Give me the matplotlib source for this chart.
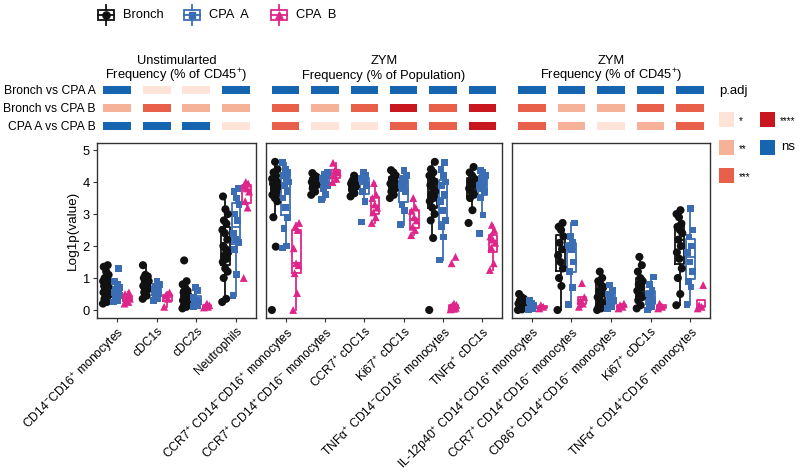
import matplotlib
matplotlib.use('Agg')
import matplotlib.pyplot as plt
from matplotlib.patches import Rectangle
import numpy as np

plt.rcParams['font.family'] = ['Liberation Sans', 'DejaVu Sans']
plt.rcParams['mathtext.fontset'] = 'custom'
plt.rcParams['mathtext.rm'] = 'Liberation Sans'
plt.rcParams['mathtext.it'] = 'Liberation Sans:italic'
plt.rcParams['mathtext.bf'] = 'Liberation Sans:bold'

groups = ['Bronch', 'CPA  A', 'CPA  B']
comparisons = ['Bronch vs CPA A', 'Bronch vs CPA B', 'CPA A vs CPA B']
padj_levels = ['*', '**', '***', '****', 'ns']

title_top = ['Unstimularted', 'ZYM', 'ZYM']
title_sub = ['Frequency (% of CD45$^{+}$)', 'Frequency (% of Population)', 'Frequency (% of CD45$^{+}$)']

# Unstimulated, % of CD45+
unstim_cats = ['CD14$^{-}$CD16$^{+}$ monocytes', 'cDC1s', 'cDC2s', 'Neutrophils']
unstim_bronch = [
    [0.2, 0.25, 0.35, 0.45, 0.5, 0.55, 0.6, 0.65, 0.7, 0.7, 0.75, 0.8, 0.85, 0.9, 0.95, 1.0, 1.1, 1.2, 1.35, 1.4],
    [0.35, 0.45, 0.55, 0.65, 0.7, 0.75, 0.8, 0.85, 0.9, 0.95, 1.0, 1.05, 1.1, 1.4],
    [0.05, 0.1, 0.15, 0.2, 0.25, 0.3, 0.35, 0.4, 0.45, 0.5, 0.55, 0.6, 0.7, 0.8, 0.9, 1.55],
    [0.25, 0.35, 1.0, 1.2, 1.3, 1.5, 1.6, 1.7, 1.8, 1.9, 2.0, 2.2, 2.4, 2.5, 2.7, 2.8, 3.0, 3.15, 3.55],
]
unstim_cpa_a = [
    [0.25, 0.3, 0.4, 0.45, 0.5, 0.55, 0.6, 0.65, 0.7, 0.8, 0.9, 1.3],
    [0.3, 0.35, 0.45, 0.5, 0.6, 0.65, 0.7, 0.75, 0.8, 0.9],
    [0.1, 0.15, 0.2, 0.25, 0.3, 0.4, 0.6, 0.7],
    [0.45, 1.1, 1.9, 2.1, 2.2, 2.4, 2.8, 3.0, 3.3, 3.5, 3.7, 3.8],
]
unstim_cpa_b = [
    [0.2, 0.25, 0.3, 0.35, 0.4, 0.5, 0.55],
    [0.1, 0.35, 0.45, 0.55],
    [0.08, 0.1, 0.12, 0.15, 0.2],
    [1.0, 3.2, 3.4, 3.7, 3.8, 3.9, 3.95, 4.0],
]
unstim_padj = [['ns', '*', '*', 'ns'],
               ['**', '***', '**', '**'],
               ['ns', 'ns', 'ns', '*']]

# ZYM, % of population
zym_pop_cats = ['CCR7$^{+}$ CD14$^{-}$CD16$^{+}$ monocytes', 'CCR7$^{+}$ CD14$^{+}$CD16$^{-}$ monocytes',
                'CCR7$^{+}$ cDC1s', 'Ki67$^{+}$ cDC1s',
                'TNFα$^{+}$ CD14$^{-}$CD16$^{+}$ monocytes', 'TNFα$^{+}$ cDC1s']
zym_pop_bronch = [
    [0, 1.98, 2.9, 3.4, 3.5, 3.6, 3.7, 3.8, 3.85, 3.9, 3.95, 4.0, 4.05, 4.1, 4.2, 4.3, 4.4, 4.63],
    [3.6, 3.7, 3.8, 3.9, 3.95, 4.0, 4.05, 4.1, 4.15, 4.2, 4.28],
    [3.55, 3.65, 3.75, 3.85, 3.9, 3.95, 4.0, 4.05, 4.1, 4.2],
    [3.5, 3.6, 3.7, 3.8, 3.9, 3.95, 4.0, 4.1, 4.2, 4.3, 4.37],
    [0, 2.25, 2.8, 3.0, 3.2, 3.4, 3.5, 3.6, 3.7, 3.8, 3.9, 4.0, 4.1, 4.2, 4.3, 4.4, 4.63],
    [2.72, 3.12, 3.5, 3.6, 3.7, 3.8, 3.9, 4.0, 4.1, 4.2, 4.3, 4.47],
]
zym_pop_cpa_a = [
    [1.94, 2.0, 2.56, 2.9, 3.2, 3.5, 3.7, 3.9, 4.0, 4.1, 4.2, 4.3, 4.4, 4.6],
    [3.45, 3.6, 3.8, 3.9, 4.0, 4.1, 4.2, 4.25, 4.3],
    [2.75, 3.4, 3.7, 3.9, 4.0, 4.1, 4.2, 4.3],
    [2.66, 3.12, 3.28, 3.7, 3.8, 3.9, 4.0, 4.1, 4.2, 4.37],
    [1.56, 2.28, 2.6, 2.8, 3.1, 3.4, 3.6, 3.9, 4.0, 4.2, 4.4, 4.6],
    [2.4, 2.97, 3.5, 3.7, 3.8, 3.9, 4.0, 4.1, 4.2, 4.3, 4.37],
]
zym_pop_cpa_b = [
    [0, 0.53, 1.15, 1.4, 1.46, 1.93, 2.5, 2.6, 2.72],
    [4.0, 4.1, 4.2, 4.3, 4.4, 4.6],
    [2.72, 2.9, 3.05, 3.2, 3.3, 3.5, 3.6, 3.97],
    [2.34, 2.5, 2.6, 2.8, 2.9, 3.1, 3.2, 3.5],
    [0.02, 0.04, 0.05, 0.07, 0.08, 0.1, 0.12, 0.14, 0.16, 0.2, 1.46, 1.66],
    [1.25, 1.46, 1.95, 2.1, 2.2, 2.3, 2.5, 2.66],
]
zym_pop_padj = [['ns', 'ns', 'ns', 'ns', 'ns', 'ns'],
                ['***', '**', '***', '****', '***', '****'],
                ['***', '*', '*', '***', '***', '****']]

# ZYM, % of CD45+
zym_cd45_cats = ['IL-12p40$^{+}$ CD14$^{+}$CD16$^{+}$ monocytes', 'CCR7$^{+}$ CD14$^{+}$CD16$^{-}$ monocytes',
                 'CD86$^{+}$ CD14$^{+}$CD16$^{-}$ monocytes', 'Ki67$^{+}$ cDC1s',
                 'TNFα$^{+}$ CD14$^{+}$CD16$^{-}$ monocytes']
zym_cd45_bronch = [
    [0.0, 0.02, 0.05, 0.1, 0.15, 0.2, 0.25, 0.3, 0.35, 0.4, 0.5],
    [0.0, 0.75, 1.0, 1.3, 1.5, 1.7, 1.9, 2.1, 2.3, 2.5, 2.6, 2.72],
    [0.0, 0.05, 0.1, 0.2, 0.3, 0.4, 0.5, 0.6, 0.7, 0.8, 0.9, 1.0, 1.2],
    [0.05, 0.15, 0.3, 0.4, 0.5, 0.6, 0.7, 0.8, 0.9, 1.0, 1.2, 1.4, 1.66],
    [0.15, 0.5, 1.0, 1.3, 1.6, 1.8, 2.0, 2.2, 2.4, 2.5, 2.6, 2.7, 2.9, 3.0, 3.12],
]
zym_cd45_cpa_a = [
    [0.02, 0.05, 0.1, 0.15, 0.2, 0.3],
    [0.16, 0.7, 1.2, 1.5, 1.9, 2.0, 2.1, 2.3, 2.72],
    [0.05, 0.1, 0.2, 0.3, 0.4, 0.5, 0.6, 0.78],
    [0.0, 0.1, 0.2, 0.3, 0.4, 0.5, 0.6, 0.8, 1.03],
    [0.16, 0.72, 0.9, 1.2, 1.5, 1.8, 2.0, 2.28, 2.5, 3.18],
]
zym_cd45_cpa_b = [
    [0.05, 0.1, 0.15],
    [0.1, 0.2, 0.3, 0.4, 0.84],
    [0.05, 0.1, 0.15, 0.2],
    [0.05, 0.1, 0.2],
    [0.05, 0.1, 0.15, 0.78],
]
zym_cd45_padj = [['ns', 'ns', 'ns', 'ns', 'ns'],
                 ['***', '**', '**', '***', '***'],
                 ['***', '**', '*', '**', '***']]

# styles
group_colors = ['#111111', '#3b6db5', '#e0258a']
group_markers = ['o', 's', '^']
group_sizes = [34, 24, 32]
group_offsets = [-0.27, 0.0, 0.27]
padj_colors = {'*': '#fde3d8', '**': '#f5b299', '***': '#e9604a', '****': '#c8171f', 'ns': '#1665b0'}

W, H = 800, 476
fig = plt.figure(figsize=(8, 4.76), dpi=100)


def px_axes(x0, y0, x1, y1):
    return fig.add_axes([x0 / W, 1 - y1 / H, (x1 - x0) / W, (y1 - y0) / H])


panels = [
    (97, 256, unstim_cats, [unstim_bronch, unstim_cpa_a, unstim_cpa_b], unstim_padj),
    (266, 502, zym_pop_cats, [zym_pop_bronch, zym_pop_cpa_a, zym_pop_cpa_b], zym_pop_padj),
    (512, 710, zym_cd45_cats, [zym_cd45_bronch, zym_cd45_cpa_a, zym_cd45_cpa_b], zym_cd45_padj),
]

for p, (x0, x1, cats, series, padj) in enumerate(panels):
    n = len(cats)
    ax = px_axes(x0, 143, x1, 318)
    for g in range(3):
        col = group_colors[g]
        for c in range(n):
            vals = np.array(series[g][c], dtype=float)
            pos = c + group_offsets[g]
            ax.boxplot(vals, positions=[pos], widths=0.22, showfliers=False,
                       manage_ticks=False,
                       boxprops=dict(color=col, lw=1.3),
                       whiskerprops=dict(color=col, lw=1.3),
                       capprops=dict(lw=0),
                       medianprops=dict(color=col, lw=1.3))
            k = np.arange(len(vals))
            jit = ((k * 0.618) % 1 - 0.5) * 0.16
            ax.scatter(pos + jit, vals, s=group_sizes[g], marker=group_markers[g],
                       color=col, edgecolors='none', zorder=3)
    ax.set_xlim(-0.5, n - 0.5)
    ax.set_ylim(-0.25, 5.22)
    ax.set_xticks(range(n))
    ax.set_xticklabels(cats, rotation=45, ha='right', rotation_mode='anchor', fontsize=8.7)
    ax.tick_params(axis='x', length=3, width=0.8, color='#333333', pad=2)
    for s in ax.spines.values():
        s.set_color('#333333')
        s.set_linewidth(1.0)
    if p == 0:
        ax.set_yticks([0, 1, 2, 3, 4, 5])
        ax.tick_params(axis='y', length=3, width=0.8, color='#333333', labelsize=9.3, pad=2)
        ax.set_ylabel('Log1p(value)', fontsize=9.7, labelpad=3)
    else:
        ax.set_yticks([])

    # p.adj tiles
    hx = px_axes(x0, 81, x1, 135)
    for r in range(3):
        hx.bar(range(n), 0.4, bottom=r - 0.2, width=0.7,
               color=[padj_colors[v] for v in padj[r]])
    hx.set_xlim(-0.5, n - 0.5)
    hx.set_ylim(2.5, -0.5)
    hx.set_xticks([])
    for s in hx.spines.values():
        s.set_visible(False)
    if p == 0:
        hx.set_yticks(range(3))
        hx.set_yticklabels(comparisons, fontsize=8.7)
        hx.tick_params(axis='y', length=0, pad=1)
    else:
        hx.set_yticks([])
    hx.patch.set_visible(False)

    xc = (x0 + x1) / 2 / W
    fig.text(xc, 1 - 64.5 / H, title_top[p], ha='center', va='baseline', fontsize=9.3)
    fig.text(xc, 1 - 79 / H, title_sub[p], ha='center', va='baseline', fontsize=9.3)

# overlay for legends
ov = fig.add_axes([0, 0, 1, 1])
ov.set_xlim(0, W)
ov.set_ylim(H, 0)
ov.axis('off')

leg_x = [98, 184, 271]
for g in range(3):
    col = group_colors[g]
    x = leg_x[g]
    ov.add_patch(Rectangle((x, 10), 16, 10, fill=False, edgecolor=col, lw=1.3))
    ov.plot([x, x + 16], [15, 15], color=col, lw=1.3)
    ov.plot([x + 8, x + 8], [5, 10], color=col, lw=1.3)
    ov.plot([x + 8, x + 8], [20, 25], color=col, lw=1.3)
    ov.scatter([x + 8], [15], s=group_sizes[g] * 0.8, marker=group_markers[g], color=col, zorder=3)
    ov.text(x + 25, 15.5, groups[g], fontsize=9.3, va='center', ha='left')

ov.text(719, 91, 'p.adj', fontsize=9.5, va='center', ha='left')
leg_tiles = [(719, 112), (719, 140), (719, 168), (760, 112), (760, 140)]
for lev, (tx, ty) in zip(padj_levels, leg_tiles):
    ov.add_patch(Rectangle((tx, ty), 14.5, 14.5, facecolor=padj_colors[lev], edgecolor='none'))
    if lev == 'ns':
        ov.text(tx + 21, ty + 7.5, lev, fontsize=9.5, va='center', ha='left')
    else:
        ov.text(tx + 20, ty + 9.5, lev, fontsize=7, va='center', ha='left')

fig.savefig('out.png', dpi=100)
